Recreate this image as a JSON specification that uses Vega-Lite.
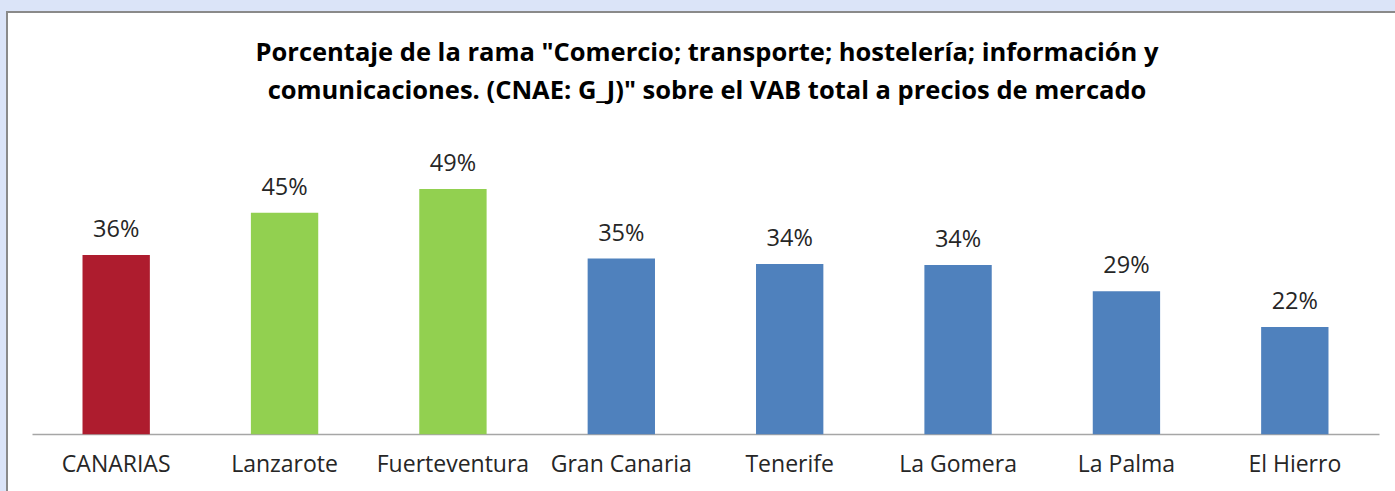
{
  "$schema": "https://vega.github.io/schema/vega-lite/v6.json",
  "width": 1400,
  "height": 490,
  "autosize": {"type": "none"},
  "padding": {"left": 7, "top": 12, "right": 0, "bottom": 0},
  "background": "#dbe4f8",
  "config": {
    "view": {"fill": "white", "stroke": "#8a8a8a", "strokeWidth": 2}
  },
  "title": {
    "text": [
      "Porcentaje de la rama \"Comercio; transporte;  hostelería;  información y",
      "comunicaciones. (CNAE: G_J)\" sobre el VAB total a precios de mercado"
    ],
    "font": "Open Sans",
    "fontSize": 25.5,
    "fontWeight": "bold",
    "color": "#000000",
    "lineHeight": 38,
    "anchor": "middle",
    "offset": -92
  },
  "data": {
    "values": [
      {"territorio": "CANARIAS", "grupo": "Canarias", "valor": 0.361},
      {"territorio": "Lanzarote", "grupo": "Orientales", "valor": 0.446},
      {"territorio": "Fuerteventura", "grupo": "Orientales", "valor": 0.494},
      {"territorio": "Gran Canaria", "grupo": "Resto", "valor": 0.354},
      {"territorio": "Tenerife", "grupo": "Resto", "valor": 0.343},
      {"territorio": "La Gomera", "grupo": "Resto", "valor": 0.341},
      {"territorio": "La Palma", "grupo": "Resto", "valor": 0.288},
      {"territorio": "El Hierro", "grupo": "Resto", "valor": 0.216}
    ]
  },
  "encoding": {
    "x": {
      "field": "territorio",
      "type": "nominal",
      "sort": null,
      "scale": {"range": [25, 1372], "paddingInner": 0.6, "paddingOuter": 0.3},
      "axis": {
        "title": null,
        "orient": "bottom",
        "offset": -68,
        "labelAngle": 0,
        "ticks": false,
        "domainColor": "#a6a6a6",
        "domainWidth": 1.5,
        "labelFont": "Open Sans",
        "labelFontSize": 23,
        "labelColor": "#262626",
        "labelPadding": 19
      }
    },
    "y": {
      "field": "valor",
      "type": "quantitative",
      "scale": {"domain": [0, 0.6], "range": [422.3, 124.4], "nice": false, "zero": true},
      "axis": null
    }
  },
  "layer": [
    {
      "mark": {"type": "bar"},
      "encoding": {
        "color": {
          "field": "grupo",
          "type": "nominal",
          "scale": {"domain": ["Canarias", "Orientales", "Resto"], "range": ["#ae1c2e", "#92d050", "#4f81bd"]},
          "legend": null
        }
      }
    },
    {
      "mark": {"type": "text", "dy": -18, "baseline": "alphabetic", "font": "Open Sans", "fontSize": 23.5, "color": "#262626"},
      "encoding": {
        "text": {"field": "valor", "type": "quantitative", "format": ".0%"}
      }
    }
  ]
}
